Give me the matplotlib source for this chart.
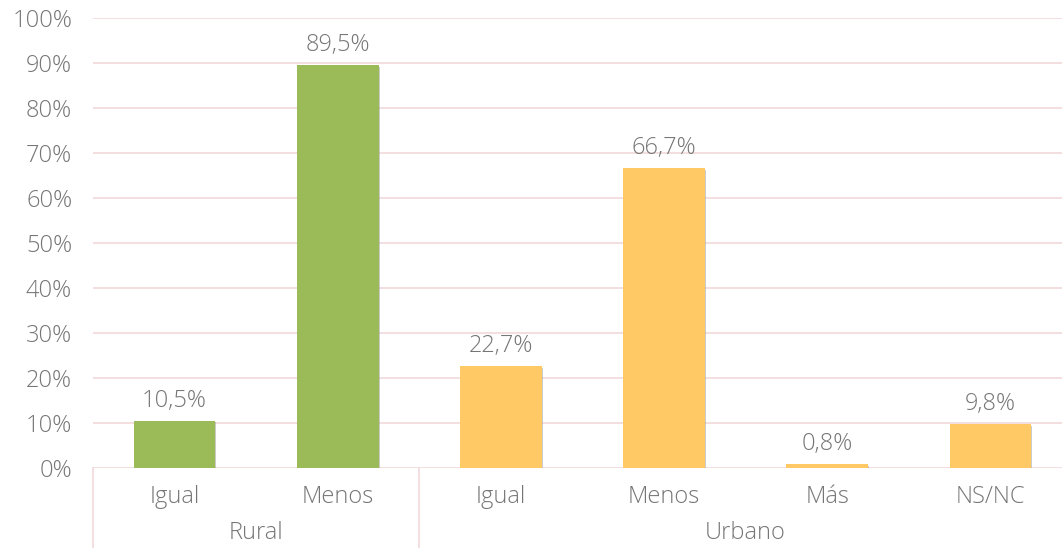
import matplotlib
matplotlib.use("Agg")
import matplotlib.pyplot as plt
import matplotlib.patheffects as pe
from matplotlib.transforms import blended_transform_factory

plt.rcParams['font.family'] = ['Open Sans', 'DejaVu Sans']

groups = ["Rural", "Urbano"]
group_sizes = [2, 4]
categories = ["Igual", "Menos", "Igual", "Menos", "Más", "NS/NC"]
values = [10.5, 89.5, 22.7, 66.7, 0.8, 9.8]
labels = ["10,5%", "89,5%", "22,7%", "66,7%", "0,8%", "9,8%"]
green = "#9bbb59"
yellow = "#ffca66"
colors = [green] * 2 + [yellow] * 4

text_color = "#767676"
grid_color = "#f2dcdc"
fs = 17
fw = "light"

fig = plt.figure(figsize=(10.62, 5.48), dpi=100)
# plot area runs slightly past the right edge of the figure
ax = fig.add_axes([93 / 1062, 80 / 548, (1072 - 93) / 1062, 450 / 548])

x = list(range(len(categories)))
shadow = [pe.SimplePatchShadow(offset=(0.8, -1.2), shadow_rgbFace="#999999", alpha=0.5), pe.Normal()]
bars = ax.bar(x, values, width=0.5, color=colors, zorder=3, path_effects=shadow)

for xi, v, lab in zip(x, values, labels):
    ax.text(xi, v + 1.8, lab, ha="center", va="bottom", fontsize=fs,
            color=text_color, fontweight=fw)

ax.set_xlim(-0.5, len(categories) - 0.5)
ax.set_ylim(0, 100)
ax.set_yticks(range(0, 101, 10))
ax.set_yticklabels([f"{t}%" for t in range(0, 101, 10)], fontsize=fs,
                   color=text_color, fontweight=fw)
ax.tick_params(axis="y", length=0, pad=15)
ax.set_xticks([])
ax.grid(axis="y", color=grid_color, linewidth=1.3, zorder=0)
for s in ax.spines.values():
    s.set_visible(False)

# category and group labels under the axis
trans = blended_transform_factory(ax.transData, fig.transFigure)
for xi, cat in zip(x, categories):
    ax.text(xi, 51 / 548, cat, transform=trans, ha="center", va="center",
            fontsize=fs, color=text_color, fontweight=fw)

start = -0.5
for g, n in zip(groups, group_sizes):
    ax.text(start + n / 2, 3 / 548, g, transform=trans, ha="center", va="bottom",
            fontsize=fs, color=text_color, fontweight=fw)
    ax.plot([start, start], [80 / 548, 0], transform=trans, color=grid_color,
            linewidth=1.3, clip_on=False)
    start += n
ax.plot([start, start], [80 / 548, 0], transform=trans, color=grid_color,
        linewidth=1.3, clip_on=False)

fig.savefig("out.png", dpi=100)
